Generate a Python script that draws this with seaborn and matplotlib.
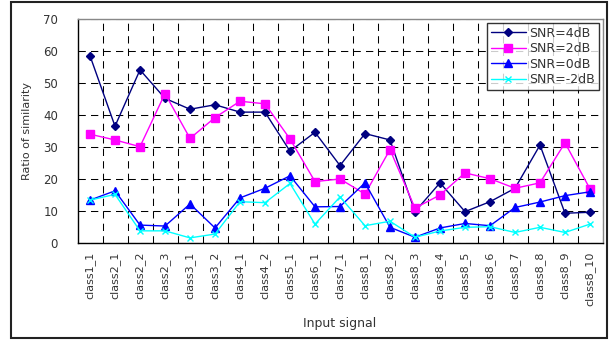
import matplotlib
matplotlib.use("Agg")
import matplotlib.pyplot as plt
import numpy as np
import pandas as pd
import seaborn as sns
from matplotlib.patches import Rectangle
from matplotlib.ticker import FixedLocator, MultipleLocator

categories = [
    "class1_1", "class2_1", "class2_2", "class2_3", "class3_1", "class3_2",
    "class4_1", "class4_2", "class5_1", "class6_1", "class7_1", "class8_1",
    "class8_2", "class8_3", "class8_4", "class8_5", "class8_6", "class8_7",
    "class8_8", "class8_9", "class8_10",
]
snr_4db = [58.5, 36.5, 54.1, 45.2, 41.8, 43.2, 40.9, 40.9, 28.7, 34.6, 24.2,
           34.2, 32.2, 9.8, 18.8, 9.8, 12.9, 17.1, 30.6, 9.3, 9.6]
snr_2db = [34.0, 32.2, 30.1, 46.7, 32.7, 39.2, 44.3, 43.5, 32.5, 19.2, 20.0,
           15.3, 29.2, 10.9, 15.0, 21.9, 20.1, 17.1, 18.8, 31.3, 16.9]
snr_0db = [13.4, 16.3, 5.6, 5.3, 12.2, 4.7, 14.1, 17.1, 21.0, 11.3, 11.4,
           18.8, 4.9, 1.8, 4.7, 6.1, 5.4, 11.1, 12.8, 14.8, 16.0]
snr_m2db = [13.4, 15.2, 3.8, 3.8, 1.6, 2.8, 12.9, 12.6, 18.6, 5.9, 14.4,
            5.4, 6.8, 1.8, 3.75, 4.9, 5.1, 3.3, 4.9, 3.3, 5.9]
series_names = ["SNR=4dB", "SNR=2dB", "SNR=0dB", "SNR=-2dB"]

frames = []
for name, vals in zip(series_names, [snr_4db, snr_2db, snr_0db, snr_m2db]):
    frames.append(pd.DataFrame({"signal": categories, "ratio": vals, "snr": name}))
df = pd.concat(frames, ignore_index=True)
df["pos"] = df["signal"].map({c: i for i, c in enumerate(categories)})

sns.set_style("white")
plt.rcParams["font.family"] = ["DejaVu Sans"]

W, H = 612, 340
fig = plt.figure(figsize=(W / 100, H / 100), dpi=100)
ax = fig.add_axes([77.5 / W, 1 - 243 / H, 525 / W, 224 / H])

palette = {"SNR=4dB": "#000080", "SNR=2dB": "#FF00FF",
           "SNR=0dB": "#0000FF", "SNR=-2dB": "#00FFFF"}
markers = {"SNR=4dB": "D", "SNR=2dB": "s", "SNR=0dB": "^", "SNR=-2dB": "x"}
sizes = {"SNR=4dB": 4, "SNR=2dB": 6, "SNR=0dB": 6, "SNR=-2dB": 5}

for name in series_names:
    sub = df[df["snr"] == name]
    sns.lineplot(data=sub, x="pos", y="ratio", color=palette[name],
                 marker=markers[name], markersize=sizes[name],
                 markeredgecolor=palette[name], markeredgewidth=1.0,
                 linewidth=1.0, label=name, ax=ax, zorder=3)

ax.set_xlim(-0.5, len(categories) - 0.5)
ax.set_ylim(0, 70)
ax.yaxis.set_major_locator(MultipleLocator(10))
ax.xaxis.set_major_locator(FixedLocator(np.arange(len(categories))))
ax.set_xticklabels(categories, rotation=90, fontsize=8, color="#333333")
ax.xaxis.set_minor_locator(FixedLocator(np.arange(len(categories)) + 0.5))
ax.tick_params(axis="x", which="major", length=0, pad=6)
ax.tick_params(axis="x", which="minor", length=4, direction="in", color="black")
ax.tick_params(axis="y", which="major", length=0, pad=14, labelsize=8.5,
               labelcolor="#333333")

ax.grid(False)
ax.grid(True, axis="y", which="major", color="black", linestyle=(0, (7, 5)), linewidth=0.75)
ax.grid(True, axis="x", which="minor", color="black", linestyle=(0, (7, 5)), linewidth=0.75)
ax.set_axisbelow(True)

for side in ["left", "bottom"]:
    ax.spines[side].set_color("black")
    ax.spines[side].set_linewidth(1.0)
for side in ["top", "right"]:
    ax.spines[side].set_color("#888888")
    ax.spines[side].set_linewidth(1.0)

ax.set_xlabel("Input signal", fontsize=9, color="#333333", labelpad=8)
ax.set_ylabel("Ratio of similarity", fontsize=8, color="#333333", labelpad=8)

leg = ax.legend(loc="upper right", bbox_to_anchor=(599 / W, 1 - 23 / H),
                bbox_transform=fig.transFigure, frameon=True, fancybox=False,
                fontsize=9, handlelength=2.8, borderpad=0.3,
                labelspacing=0.2, handletextpad=0.3, borderaxespad=0)
leg.get_frame().set_edgecolor("black")
leg.get_frame().set_linewidth(1.0)
for t in leg.get_texts():
    t.set_color("#333333")

fig.patches.append(Rectangle((11 / W, 2 / H), 596 / W, 336 / H,
                             transform=fig.transFigure, fill=False,
                             edgecolor="#222222", linewidth=1.5))

fig.savefig("out.png", dpi=100)
